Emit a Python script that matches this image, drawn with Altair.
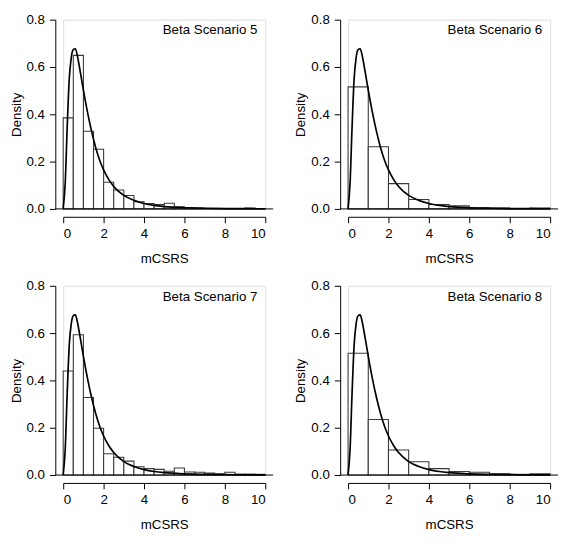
import altair as alt
import pandas as pd

# Panel titles and histogram bin widths
titles = ["Beta Scenario 5", "Beta Scenario 6", "Beta Scenario 7", "Beta Scenario 8"]
bin_widths = [0.5, 1.0, 0.5, 1.0]

# Histogram densities (bins start at 0)
dens5 = [0.385, 0.649, 0.328, 0.252, 0.113, 0.080, 0.057, 0.030, 0.023, 0.018,
         0.024, 0.009, 0.006, 0.003, 0.002, 0.002, 0.001, 0.001, 0.004, 0.001]
dens6 = [0.516, 0.263, 0.107, 0.040, 0.019, 0.013, 0.005, 0.004, 0.001, 0.004]
dens7 = [0.440, 0.593, 0.328, 0.198, 0.090, 0.075, 0.059, 0.035, 0.027, 0.024,
         0.016, 0.030, 0.013, 0.012, 0.008, 0.005, 0.012, 0.004, 0.004, 0.003]
dens8 = [0.515, 0.235, 0.106, 0.056, 0.027, 0.015, 0.012, 0.005, 0.003, 0.005]
all_dens = [dens5, dens6, dens7, dens8]

# Fitted density curve
curve_x = [0, 0.1, 0.2, 0.3, 0.4, 0.5, 0.6, 0.7, 0.8, 0.9, 1.0, 1.2, 1.4, 1.6,
           1.8, 2.0, 2.25, 2.5, 3.0, 3.5, 4.0, 4.5, 5.0, 6.0, 7.0, 8.0, 9.0, 10.0]
curve_y = [0, 0.11, 0.35, 0.55, 0.64, 0.674, 0.677, 0.648, 0.602, 0.552, 0.502,
           0.410, 0.330, 0.262, 0.207, 0.165, 0.125, 0.095, 0.057, 0.036, 0.023,
           0.015, 0.010, 0.005, 0.0028, 0.0016, 0.0010, 0.0006]

x_ticks = [0, 2, 4, 6, 8, 10]
y_ticks = [0.0, 0.2, 0.4, 0.6, 0.8]

W = 205
H = 192
FONT = "Liberation Sans"
FS = 13.5
STROKE = "#3a3a3a"

x_axis = alt.Axis(values=x_ticks, title="mCSRS", offset=8, tickSize=6, labelPadding=4,
                  titlePadding=12, grid=False, domainColor="black", tickColor="black",
                  labelColor="black", titleColor="black", labelFontSize=FS,
                  titleFontSize=FS, titleFontWeight="normal", labelFont=FONT,
                  titleFont=FONT, domainWidth=1, tickWidth=1)
y_axis = alt.Axis(values=y_ticks, format=".1f", title="Density", offset=8, tickSize=6,
                  labelPadding=5, titlePadding=3, grid=False, domainColor="black",
                  tickColor="black", labelColor="black", titleColor="black",
                  labelFontSize=FS, titleFontSize=FS, titleFontWeight="normal",
                  labelFont=FONT, titleFont=FONT, domainWidth=1, tickWidth=1)
x_scale = alt.Scale(domain=[0, 10], nice=False)
y_scale = alt.Scale(domain=[0, 0.8], nice=False)

curve_df = pd.DataFrame({"x": curve_x, "y": curve_y})


def panel(i):
    w = bin_widths[i]
    d = all_dens[i]
    bars_df = pd.DataFrame({
        "x": [k * w for k in range(len(d))],
        "x2": [(k + 1) * w for k in range(len(d))],
        "y": d,
        "y0": [0.0] * len(d),
    })
    bars = alt.Chart(bars_df).mark_rect(fill="white", stroke=STROKE, strokeWidth=1.1).encode(
        x=alt.X("x:Q", scale=x_scale, axis=x_axis),
        x2="x2:Q",
        y=alt.Y("y:Q", scale=y_scale, axis=y_axis),
        y2="y0:Q",
    )
    base = alt.Chart(pd.DataFrame({"y": [0.0]})).mark_rule(color="black", strokeWidth=1).encode(
        y=alt.Y("y:Q", scale=y_scale, axis=y_axis),
        x=alt.value(-8),
        x2=alt.value(W + 8),
    )
    line = alt.Chart(curve_df).mark_line(color="black", strokeWidth=1.7,
                                         interpolate="monotone").encode(
        x=alt.X("x:Q", scale=x_scale, axis=x_axis),
        y=alt.Y("y:Q", scale=y_scale, axis=y_axis),
    )
    label = alt.Chart(pd.DataFrame({"t": [titles[i]]})).mark_text(
        align="right", baseline="alphabetic", font=FONT, fontSize=FS, color="black"
    ).encode(
        x=alt.value(W - 8),
        y=alt.value(15),
        text="t:N",
    )
    return alt.layer(bars, base, line, label).properties(width=W, height=H)


chart = alt.vconcat(
    alt.hconcat(panel(0), panel(1), spacing=19),
    alt.hconcat(panel(2), panel(3), spacing=19),
    spacing=12,
).properties(padding=0).configure_view(stroke=None).configure(font=FONT)

chart.save("out.html", embed_options={"renderer": "svg", "actions": False})
